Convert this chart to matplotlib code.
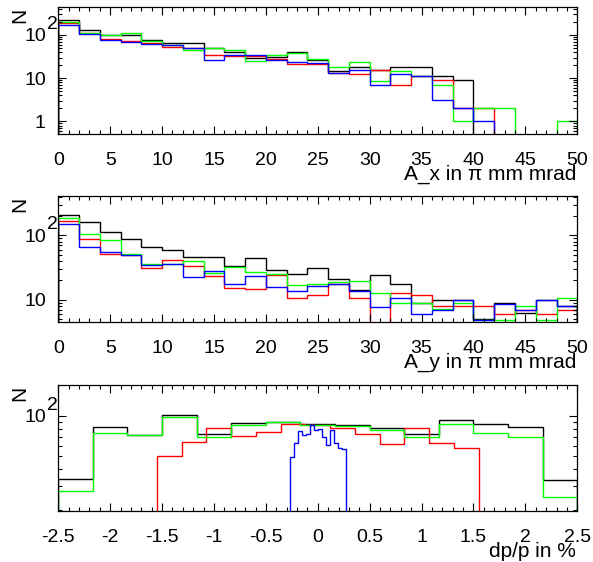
import matplotlib
matplotlib.use('Agg')
import matplotlib.pyplot as plt
import numpy as np
from matplotlib.ticker import MultipleLocator, LogLocator, NullFormatter

plt.rcParams['font.family'] = ['Liberation Sans', 'DejaVu Sans']
plt.rcParams['axes.unicode_minus'] = False

# A_x in pi mm mrad, 25 bins from 0 to 50
ax_edges = np.linspace(0, 50, 26)
ax_black = [223, 131, 98, 101, 77, 66, 66, 49, 40, 30, 31, 41, 27, 14.5, 17.7,
            15.3, 18.3, 18.3, 11.3, 9.3, 0, 0, 0, 0, 0]
ax_red = [187, 110, 82, 74, 66, 53.5, 50.7, 34, 33, 33, 28, 21.5, 21.5, 13.3, 12.2,
          15.3, 7.1, 11.3, 9.3, 2, 2, 0, 0, 0, 0]
ax_green = [200, 113, 98, 109, 71, 60, 44, 49, 44, 25, 33.6, 38, 28, 18.3, 23.5,
            8.4, 14.3, 11.3, 7.1, 1, 2, 2, 0, 0, 1]
ax_blue = [171, 105, 78, 69, 63, 58.5, 50, 27, 35, 34, 26.7, 24, 22, 13.5, 15.3,
           7.1, 12.4, 11.3, 3.2, 2, 1, 0, 0, 0, 0]

# A_y in pi mm mrad, 25 bins from 0 to 50
ay_edges = np.linspace(0, 50, 26)
ay_black = [211, 160, 114, 87.5, 66, 59, 45.7, 45.7, 33.8, 44.5, 28.9, 25, 30.7, 20.8, 14,
            24.1, 17.4, 8.8, 9.8, 9.8, 4.9, 8.7, 6.2, 9.8, 7.9]
ay_red = [170, 89, 52, 50, 31, 42, 33.4, 23.5, 15.4, 14.5, 23.8, 10.6, 11.7, 17.6, 10.6,
          0, 12.7, 11.7, 7.9, 7.9, 7.9, 5.9, 6.97, 5.9, 6.97]
ay_green = [185, 105, 85, 52, 35.5, 35.5, 40.5, 26, 32.2, 27.2, 25.3, 16.8, 17.3, 18.9, 19.4,
            12.6, 8.8, 8.8, 7.2, 8.85, 4.87, 4.87, 7.86, 4.87, 10.7]
ay_blue = [151, 66, 56, 50, 34.6, 36.3, 22.2, 27.8, 17.4, 23.5, 15.6, 13.7, 16.4, 17.6, 13.8,
           7.8, 10.6, 5.9, 6.8, 9.8, 4.87, 8.66, 6.97, 9.8, 7.86]

# dp/p in %, each colour has its own binning
dp_edges_wide = np.linspace(-2.5, 2.5, 16)
dp_black = [34, 82.8, 71.8, 101, 72.6, 88.7, 90.2, 86.7, 84.7, 80.5, 72.6, 92.8, 87.2, 81.9, 33.2]
dp_green = [27.5, 74.6, 71.8, 97.2, 69.3, 85.2, 90.2, 85, 83.3, 78.7, 69.8, 87.2, 74.6, 69.8, 25.1]
dp_edges_red = np.linspace(-1.55, 1.55, 14)
dp_red = [50.4, 63.7, 81.5, 70.6, 75.1, 86.7, 85, 80.5, 73.1, 61.9, 80.5, 63, 57.8]
dp_edges_blue = np.linspace(-0.267, 0.267, 15)
dp_blue = [49, 62.5, 76.9, 71.8, 73.5, 85.3, 78.8, 79.6, 69.3, 60.4, 77.8, 62.5, 57.7, 56.4]

TICK_FS = 14
TITLE_FS = 15


def hist(ax, edges, vals, color):
    v = np.array(vals, dtype=float)
    v = np.where(v > 0, v, 1e-3)
    ax.stairs(v, edges, baseline=1e-3, color=color, lw=1.0)


def style(ax, xlim, xmaj, xmin, ylim, yticks, ylabels, xtitle):
    ax.set_xlim(xlim)
    ax.set_yscale('log')
    ax.set_ylim(ylim)
    ticks = np.arange(xlim[0], xlim[1] + xmaj / 2, xmaj)
    ax.set_xticks(ticks, ['%g' % (round(t, 2) + 0) for t in ticks])
    ax.xaxis.set_minor_locator(MultipleLocator(xmin))
    ax.set_yticks(yticks, ylabels)
    ax.yaxis.set_minor_locator(LogLocator(base=10, subs=np.arange(2, 10)))
    ax.yaxis.set_minor_formatter(NullFormatter())
    ax.tick_params(which='both', direction='in', top=True, right=True,
                   labelsize=TICK_FS, width=0.8)
    ax.tick_params(which='major', length=5.8)
    ax.tick_params(which='minor', length=2.9)
    ax.tick_params(axis='x', pad=13.3)
    ax.tick_params(axis='y', pad=9)
    for s in ax.spines.values():
        s.set_linewidth(0.9)
    # exponent of the 10^2 label, ROOT style
    ax.annotate('2', xy=(0, 100), xycoords=('axes fraction', 'data'),
                xytext=(0, 1.5), textcoords='offset points',
                ha='right', va='bottom', fontsize=TICK_FS)
    ax.annotate('N', xy=(0, 1), xycoords='axes fraction',
                xytext=(-28, -6), textcoords='offset points',
                ha='center', va='center', rotation=90, fontsize=TITLE_FS)
    ax.annotate(xtitle, xy=(1, 0), xycoords='axes fraction',
                xytext=(-1, -22.3), textcoords='offset points',
                ha='right', va='top', fontsize=TITLE_FS)


fig = plt.figure(figsize=(5.93, 5.62), dpi=100)

a1 = fig.add_axes([0.0983, 0.7616, 0.8752, 0.2260])
hist(a1, ax_edges, ax_black, 'black')
hist(a1, ax_edges, ax_red, '#ff0000')
hist(a1, ax_edges, ax_green, '#00ff00')
hist(a1, ax_edges, ax_blue, '#0000ff')
style(a1, (0, 50), 5, 1, (0.511, 445), [1, 10, 100], ['1', '10', '10'],
      'A_x in π mm mrad')

a2 = fig.add_axes([0.0983, 0.4270, 0.8752, 0.2242])
hist(a2, ay_edges, ay_black, 'black')
hist(a2, ay_edges, ay_red, '#ff0000')
hist(a2, ay_edges, ay_green, '#00ff00')
hist(a2, ay_edges, ay_blue, '#0000ff')
style(a2, (0, 50), 5, 1, (4.47, 411), [10, 100], ['10', '10'],
      'A_y in π mm mrad')

a3 = fig.add_axes([0.0983, 0.0907, 0.8752, 0.2242])
hist(a3, dp_edges_wide, dp_black, 'black')
hist(a3, dp_edges_red, dp_red, '#ff0000')
hist(a3, dp_edges_wide, dp_green, '#00ff00')
hist(a3, dp_edges_blue, dp_blue, '#0000ff')
style(a3, (-2.5, 2.5), 0.5, 0.1, (19.6, 169), [100], ['10'],
      'dp/p in %')

fig.savefig('out.png', dpi=100)
